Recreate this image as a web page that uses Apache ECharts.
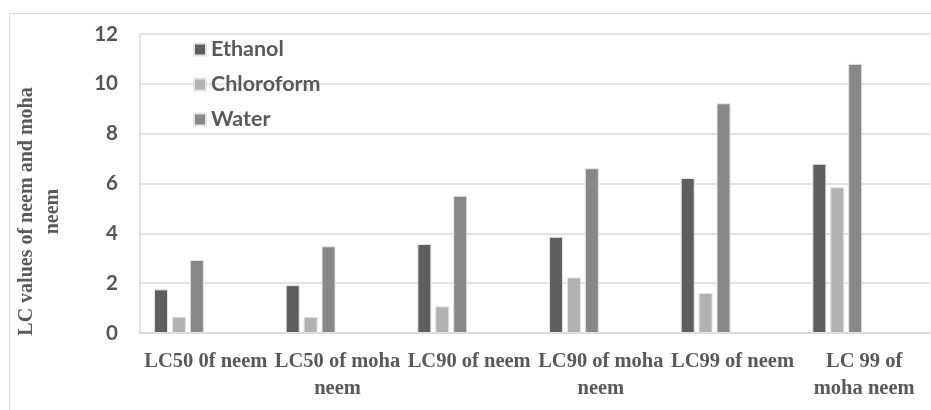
<!DOCTYPE html>
<html>
<head>
<meta charset="utf-8">
<script src="https://cdn.jsdelivr.net/npm/echarts@6/dist/echarts.min.js"></script>
<style>
  html, body { margin: 0; padding: 0; background: #ffffff; }
  #frame { position: absolute; left: 9px; top: 13px; width: 1000px; height: 1000px; border: 1.5px solid #d9d9d9; box-sizing: border-box; }
  #chart { position: absolute; left: 0; top: 0; width: 931px; height: 410px; }
</style>
</head>
<body>
<div id="frame"></div>
<div id="chart"></div>
<script>
const categories = ['LC50 0f neem', 'LC50 of moha\nneem', 'LC90 of neem', 'LC90 of moha\nneem', 'LC99 of neem', 'LC 99 of\nmoha neem'];
const ethanol = [1.75, 1.92, 3.57, 3.86, 6.22, 6.79];
const chloroform = [0.65, 0.65, 1.07, 2.23, 1.61, 5.85];
const water = [2.93, 3.48, 5.51, 6.61, 9.22, 10.80];
const seriesNames = ['Ethanol', 'Chloroform', 'Water'];
const seriesColors = ['#5e5e5e', '#b2b2b2', '#888888'];
const yTicks = { min: 0, max: 12, interval: 2 };

const chart = echarts.init(document.getElementById('chart'), null, { renderer: 'canvas' });
const barBase = { type: 'bar', barWidth: 14, barGap: '28%', itemStyle: { borderColor: '#e4e4e4', borderWidth: 1 } };
const dataSets = [ethanol, chloroform, water];
const series = dataSets.map((d, i) => Object.assign({}, barBase, {
  name: seriesNames[i], data: d, itemStyle: Object.assign({}, barBase.itemStyle, { color: seriesColors[i] })
}));
// three empty slots (the source chart reserves room for them in each category)
for (let k = 0; k < 3; k++) series.push(Object.assign({}, barBase, { name: 'empty' + k, data: [] }));

chart.setOption({
  animation: false,
  backgroundColor: 'transparent',
  grid: { left: 140, right: 1, top: 34, bottom: 77 },
  legend: {
    data: seriesNames,
    orient: 'vertical', left: 193, top: 38, padding: 0,
    itemWidth: 12, itemHeight: 12, itemGap: 12, icon: 'rect',
    textStyle: { fontFamily: 'Lato', fontWeight: 'bold', fontSize: 21.5, color: '#595959', lineHeight: 23 }
  },
  xAxis: {
    type: 'category', data: categories,
    axisLine: { show: true, lineStyle: { color: '#d9d9d9', width: 1.5 } },
    axisTick: { show: false },
    axisLabel: { interval: 0, margin: 15, fontFamily: 'Liberation Serif', fontWeight: 'bold', fontSize: 20.5, color: '#595959', lineHeight: 27 }
  },
  yAxis: {
    type: 'value', min: yTicks.min, max: yTicks.max, interval: yTicks.interval,
    name: 'LC values of neem and moha\nneem',
    nameLocation: 'middle', nameGap: 74, nameRotate: 90,
    nameTextStyle: { fontFamily: 'Liberation Serif', fontWeight: 'bold', fontSize: 20, color: '#595959', lineHeight: 26, padding: [0, 56, 0, 0] },
    axisLine: { show: true, lineStyle: { color: '#d9d9d9', width: 1.5 } },
    axisTick: { show: false },
    axisLabel: { margin: 22, fontFamily: 'Lato', fontWeight: 'bold', fontSize: 20.5, color: '#555555' },
    splitLine: { show: true, lineStyle: { color: '#d9d9d9', width: 1.5 } }
  },
  series: series
});
</script>
</body>
</html>
